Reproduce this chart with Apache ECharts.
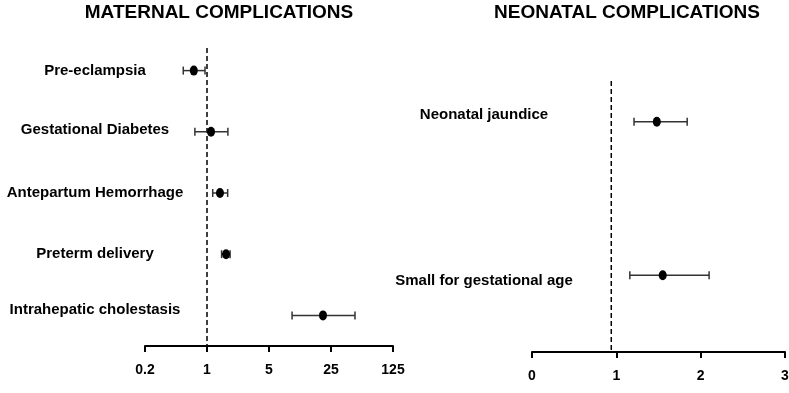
<!DOCTYPE html>
<html>
<head>
<meta charset="utf-8">
<script src="https://cdn.jsdelivr.net/npm/echarts@6/dist/echarts.min.js"></script>
<style>
  html, body { margin: 0; padding: 0; background: #fff; }
  #main { width: 789px; height: 393px; }
</style>
</head>
<body>
<div id="main"></div>
<script>
// maternal panel (odds ratios, log scale)
const maternalLabels = ['Pre-eclampsia', 'Gestational Diabetes', 'Antepartum Hemorrhage', 'Preterm delivery', 'Intrahepatic cholestasis'];
const maternalEst = [0.71, 1.11, 1.40, 1.64, 20.3];
const maternalLow = [0.54, 0.73, 1.16, 1.46, 9.1];
const maternalHigh = [0.95, 1.72, 1.71, 1.82, 46.6];
const maternalTicks = ['0.2', '1', '5', '25', '125'];
const maternalRef = 1;

// neonatal panel (linear scale)
const neonatalLabels = ['Neonatal jaundice', 'Small for gestational age'];
const neonatalEst = [1.48, 1.55];
const neonatalLow = [1.21, 1.16];
const neonatalHigh = [1.84, 2.10];
const neonatalTicks = ['0', '1', '2', '3'];
const neonatalRef = 0.94;

// small vertical nudges of the row labels (px, negative = up)
const maternalNudge = [0, -2, 0, 0, -6];
const neonatalNudge = [-7, 6];

const FONT = '"Liberation Sans", Arial, Helvetica, sans-serif';
const chart = echarts.init(document.getElementById('main'));

function errorBar(params, api) {
  const lo = api.coord([api.value(0), api.value(2)]);
  const hi = api.coord([api.value(1), api.value(2)]);
  const cap = 4;
  const style = { stroke: '#333', lineWidth: 1.5 };
  return {
    type: 'group',
    children: [
      { type: 'line', shape: { x1: lo[0], y1: lo[1], x2: hi[0], y2: hi[1] }, style },
      { type: 'line', shape: { x1: lo[0], y1: lo[1] - cap, x2: lo[0], y2: lo[1] + cap }, style },
      { type: 'line', shape: { x1: hi[0], y1: hi[1] - cap, x2: hi[0], y2: hi[1] + cap }, style }
    ]
  };
}

function refLine(inset) {
  return function (params, api) {
    const cs = params.coordSys;
    const x = api.coord([api.value(0), 0])[0];
    return {
      type: 'line',
      shape: { x1: x, y1: cs.y + inset, x2: x, y2: cs.y + cs.height },
      style: { stroke: '#000', lineWidth: 1.5, lineDash: [5, 3] }
    };
  };
}

// row labels as rich text so each one can be nudged vertically
function rowLabelAxis(nudge, margin) {
  const rich = {};
  nudge.forEach((d, i) => {
    rich['r' + i] = {
      color: '#000', fontWeight: 'bold', fontSize: 15, fontFamily: FONT, align: 'center',
      padding: d < 0 ? [0, 0, -2 * d, 0] : [2 * d, 0, 0, 0]
    };
  });
  return {
    color: '#000', fontWeight: 'bold', fontSize: 15, fontFamily: FONT, align: 'center', margin,
    formatter: (v, i) => '{r' + i + '|' + v + '}',
    rich
  };
}

const xAxisCommon = {
  axisLine: { show: true, lineStyle: { color: '#000', width: 2 } },
  axisTick: { show: true, length: 6, lineStyle: { color: '#000', width: 2 } },
  axisLabel: { color: '#000', fontWeight: 'bold', fontSize: 14, fontFamily: FONT, margin: 17, showMinLabel: true, showMaxLabel: true },
  splitLine: { show: false }
};

const yAxisCommon = {
  type: 'category',
  inverse: true,
  axisLine: { show: false },
  axisTick: { show: false },
  splitLine: { show: false }
};

chart.setOption({
  animation: false,
  backgroundColor: '#fff',
  graphic: [
    { type: 'text', x: 219, y: 13, style: { text: 'MATERNAL COMPLICATIONS', fill: '#000', font: 'bold 19px ' + FONT, textAlign: 'center', textVerticalAlign: 'middle' } },
    { type: 'text', x: 627, y: 13, style: { text: 'NEONATAL COMPLICATIONS', fill: '#000', font: 'bold 19px ' + FONT, textAlign: 'center', textVerticalAlign: 'middle' } }
  ],
  grid: [
    { left: 145, top: 40, width: 248, height: 306, containLabel: false, outerBoundsMode: 'none' },
    { left: 532, top: 45, width: 253, height: 307, containLabel: false, outerBoundsMode: 'none' }
  ],
  xAxis: [
    Object.assign({}, xAxisCommon, {
      gridIndex: 0, type: 'log', logBase: 5, min: 0.2, max: 125, splitNumber: 4,
      axisLabel: Object.assign({}, xAxisCommon.axisLabel, {
        formatter: v => maternalTicks[Math.round(Math.log(v) / Math.log(5)) + 1]
      })
    }),
    Object.assign({}, xAxisCommon, {
      gridIndex: 1, type: 'value', min: 0, max: 3, interval: 1,
      axisLabel: Object.assign({}, xAxisCommon.axisLabel, {
        formatter: v => neonatalTicks[Math.round(v)]
      })
    })
  ],
  yAxis: [
    Object.assign({}, yAxisCommon, {
      gridIndex: 0, data: maternalLabels,
      axisLabel: rowLabelAxis(maternalNudge, 50)
    }),
    Object.assign({}, yAxisCommon, {
      gridIndex: 1, data: neonatalLabels,
      axisLabel: rowLabelAxis(neonatalNudge, 48)
    })
  ],
  series: [
    { type: 'custom', xAxisIndex: 0, yAxisIndex: 0, renderItem: refLine(8), data: [[maternalRef]], silent: true },
    { type: 'custom', xAxisIndex: 1, yAxisIndex: 1, renderItem: refLine(36), data: [[neonatalRef]], silent: true },
    {
      type: 'custom', xAxisIndex: 0, yAxisIndex: 0, renderItem: errorBar,
      encode: { x: [0, 1], y: 2 },
      data: maternalLabels.map((_, i) => [maternalLow[i], maternalHigh[i], i])
    },
    {
      type: 'custom', xAxisIndex: 1, yAxisIndex: 1, renderItem: errorBar,
      encode: { x: [0, 1], y: 2 },
      data: neonatalLabels.map((_, i) => [neonatalLow[i], neonatalHigh[i], i])
    },
    {
      type: 'scatter', xAxisIndex: 0, yAxisIndex: 0, symbol: 'circle', symbolSize: [8, 10],
      itemStyle: { color: '#000', opacity: 1 }, z: 5,
      data: maternalLabels.map((_, i) => [maternalEst[i], i])
    },
    {
      type: 'scatter', xAxisIndex: 1, yAxisIndex: 1, symbol: 'circle', symbolSize: [8, 10],
      itemStyle: { color: '#000', opacity: 1 }, z: 5,
      data: neonatalLabels.map((_, i) => [neonatalEst[i], i])
    }
  ]
});
</script>
</body>
</html>
